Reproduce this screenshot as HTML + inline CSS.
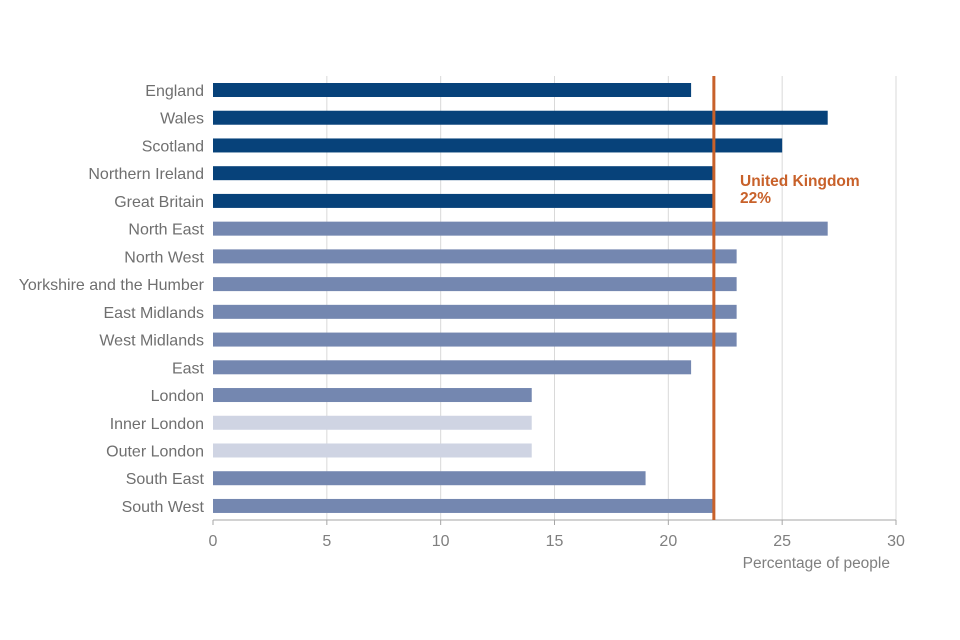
<!DOCTYPE html>
<html><head><meta charset="utf-8"><style>
body{margin:0;background:#fff;}
svg{display:block;font-family:"Liberation Sans",Arial,sans-serif;}
</style></head><body>
<svg id="c" width="960" height="640"></svg>
<script>
const categories=["England","Wales","Scotland","Northern Ireland","Great Britain","North East","North West","Yorkshire and the Humber","East Midlands","West Midlands","East","London","Inner London","Outer London","South East","South West"];
const values=[21,27,25,22,22,27,23,23,23,23,21,14,14,14,19,22];
const groups=["nation","nation","nation","nation","nation","region","region","region","region","region","region","region","sub","sub","region","region"];
const ticks=[0,5,10,15,20,25,30];
const ukValue=22;
const colors={nation:"#07427a",region:"#7487b0",sub:"#cfd4e3"};
const NS="http://www.w3.org/2000/svg";
const svg=document.getElementById('c');
const x0=213,x1=896,plotTop=76,plotBottom=520,firstY=90,step=27.73,bh=14;
const xs=v=>x0+(v-0)/(30-0)*(x1-x0);
const yc=i=>firstY+i*step;
function mk(t,a){const e=document.createElementNS(NS,t);for(const k in a)e.setAttribute(k,a[k]);svg.appendChild(e);return e;}
ticks.forEach(t=>{
 if(t>0){const g=mk('line',{x1:xs(t),x2:xs(t),y1:plotTop,y2:plotBottom,stroke:'#d9d9d9','stroke-width':1});
 
 }
 const tk=mk('line',{x1:xs(t),x2:xs(t),y1:plotBottom,y2:plotBottom+5,stroke:'#a6a6a6'});
 
 
 const l=mk('text',{x:xs(t),y:546,'text-anchor':'middle','font-size':16,fill:'#7f7f7f'});l.textContent=t;
 
 
});
const ax=mk('line',{x1:x0,x2:x1,y1:plotBottom,y2:plotBottom,stroke:'#a6a6a6'});


categories.forEach((c,i)=>{
 const r=mk('rect',{x:x0,y:yc(i)-bh/2,width:xs(values[i])-x0,height:bh,fill:colors[groups[i]]});
 
 
 const t=mk('text',{x:204,y:yc(i)+6,'text-anchor':'end','font-size':16,fill:'#6f6f6f'});t.textContent=c;
 
 
});
const u=mk('line',{x1:xs(ukValue),x2:xs(ukValue),y1:plotTop,y2:plotBottom,stroke:'#c8612a','stroke-width':3});


const a=mk('text',{x:740,y:186,'font-size':15.5,'font-weight':'bold',fill:'#c8612a'});a.textContent='United Kingdom';


const b=mk('text',{x:740,y:203,'font-size':15.5,'font-weight':'bold',fill:'#c8612a'});b.textContent=ukValue+'%';


const at=mk('text',{x:890,y:568,'text-anchor':'end','font-size':15.5,fill:'#7f7f7f'});at.textContent='Percentage of people';


</script>
</body></html>
